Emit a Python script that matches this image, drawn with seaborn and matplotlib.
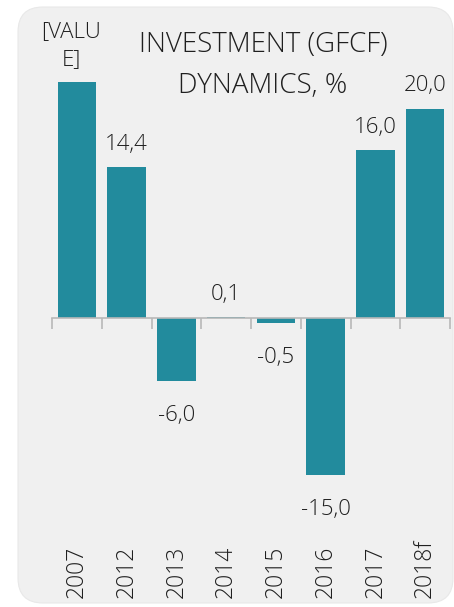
import matplotlib
matplotlib.use("Agg")
import matplotlib.pyplot as plt
from matplotlib.patches import FancyBboxPatch
from matplotlib.transforms import blended_transform_factory
import seaborn as sns
import pandas as pd

# GFCF growth, % year on year
years = ["2007", "2012", "2013", "2014", "2015", "2016", "2017", "2018f"]
growth = [22.5, 14.4, -6.0, 0.1, -0.5, -15.0, 16.0, 20.0]
labels = ["[VALU\nE]", "14,4", "-6,0", "0,1", "-0,5", "-15,0", "16,0", "20,0"]

title = "INVESTMENT (GFCF)\nDYNAMICS, %"

df = pd.DataFrame({"year": years, "growth": growth})

sns.set_theme(style="white")
plt.rcParams["font.family"] = ["Open Sans", "DejaVu Sans"]
plt.rcParams["font.weight"] = "light"

W, H = 454, 607
fig = plt.figure(figsize=(W / 100, H / 100), dpi=100)
fig.patch.set_facecolor("white")

# light grey rounded card behind the chart
card = FancyBboxPatch((18 / W, 4 / H), (453 - 18) / W, (H - 11) / H,
                      boxstyle="round,pad=0,rounding_size=0.055",
                      transform=fig.transFigure, facecolor="#f0f0f0",
                      edgecolor="#e8e8e8", linewidth=0.8, zorder=-10,
                      mutation_aspect=W / H)
fig.patches.append(card)

ax = fig.add_axes([52 / W, 0.1308, 398 / W, 0.794])
ax.set_facecolor("none")
ax.set_zorder(1)

bar_color = "#228b9d"
sns.barplot(data=df, x="year", y="growth", color=bar_color, width=0.77,
            saturation=1, linewidth=0, ax=ax)

ax.set_xlim(-0.5, len(years) - 0.5)
ax.set_ylim(-20, 26)

for s in ["top", "right", "left"]:
    ax.spines[s].set_visible(False)
ax.spines["bottom"].set_position(("data", 0))
ax.spines["bottom"].set_color("#b8b8b8")
ax.spines["bottom"].set_linewidth(1.2)
ax.set_yticks([])
ax.set_xlabel("")
ax.set_ylabel("")

# tick marks between categories, no labels at the zero line
ax.set_xticks(range(len(years)))
ax.set_xticklabels([])
ax.tick_params(axis="x", which="major", length=0)
ax.set_xticks([i - 0.5 for i in range(len(years) + 1)], minor=True)
ax.tick_params(axis="x", which="minor", length=8, width=1.2, color="#b8b8b8",
               direction="out", bottom=True)

text_color = "#1f1f1f"

# value labels
for i, (v, lab) in enumerate(zip(growth, labels)):
    if v >= 0:
        dx = -4 if "\n" in lab else 0
        ax.annotate(lab, (i, v), xytext=(dx, 9), textcoords="offset points",
                    ha="center", va="bottom", fontsize=16, color=text_color,
                    linespacing=1.45)
    else:
        ax.annotate(lab, (i, v), xytext=(0, -17), textcoords="offset points",
                    ha="center", va="top", fontsize=16, color=text_color)

# category labels along the bottom of the card
trans = blended_transform_factory(ax.transData, fig.transFigure)
for i, y in enumerate(years):
    ax.text(i, 9 / H, y, transform=trans, rotation=90, ha="center",
            va="bottom", fontsize=16.5, color=text_color)

fig.text(263 / W, 1 - 31 / H, title, ha="center", va="top", fontsize=20,
         color=text_color, linespacing=1.62)

fig.savefig("out.png", dpi=100, facecolor="white")
